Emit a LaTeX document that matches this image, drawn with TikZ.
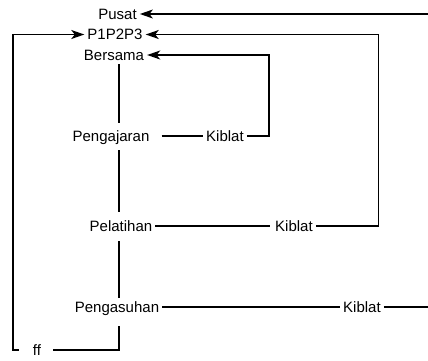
\documentclass[tikz,border=0pt]{standalone}
\usepackage{fontspec}
\setmainfont{Liberation Sans}
\usetikzlibrary{arrows.meta}
\begin{document}
\begin{tikzpicture}[x=1pt,y=-1pt,
  lbl/.style={inner xsep=3pt,inner ysep=4pt,text height=10.5pt,text depth=0pt,font=\fontsize{15}{17}\selectfont},
  ln/.style={line width=1.3pt},
  arr/.style={line width=1.3pt,-{Stealth[length=13pt,width=9pt,inset=3.5pt]}}]
\useasboundingbox (0,0) rectangle (428,360);
\node[lbl] (pusat) at (117.5,14) {Pusat};
\node[lbl] (p123) at (115,34.5) {P1P2P3};
\node[lbl] (bersama) at (114,55) {Bersama};
\node[lbl] (pengajaran) at (111,136) {Pengajaran};
\node[lbl] (kib1) at (225,136) {Kiblat};
\node[lbl] (pelatihan) at (121,226) {Pelatihan};
\node[lbl] (kib2) at (294,226) {Kiblat};
\node[lbl] (pengasuhan) at (117,307) {Pengasuhan};
\node[lbl] (kib3) at (362,307) {Kiblat};
\node[lbl] (ff) at (37,350) {ff};
\coordinate (sp) at (119,0);
\coordinate (R1) at (428,14);
\coordinate (R3) at (428,307);
\coordinate (c1) at (269,55);
\coordinate (c2) at (378.5,34.5);
\coordinate (L) at (13,350);
\coordinate (B) at (119,350);
% spine
\draw[ln] (bersama.south -| sp) -- ([yshift=4pt]pengajaran.north -| sp);
\draw[ln] ([yshift=-5pt]pengajaran.south -| sp) -- ([yshift=5pt]pelatihan.north -| sp);
\draw[ln] ([yshift=-6pt]pelatihan.south -| sp) -- (pengasuhan.north -| sp);
\draw[ln] ([yshift=-10pt]pengasuhan.south -| sp) -- (B) -- ([xshift=9pt]ff.east);
% horizontals
\draw[ln] ([xshift=9pt]pengajaran.east) -- (kib1.west);
\draw[ln] (pelatihan.east) -- ([xshift=-2pt]kib2.west);
\draw[ln] (pengasuhan.east) -- (kib3.west);
\draw[ln] (kib3.east) -- (R3);
% arrows
\draw[arr] (R1) -- (pusat.east);
\draw[arr] (kib2.east) -| (c2) |- (p123.east);
\draw[arr] (kib1.east) -| (c1) |- (bersama.east);
\draw[arr] ([xshift=-11pt]ff.west) -- (L) |- (p123.west);
\end{tikzpicture}
\end{document}
